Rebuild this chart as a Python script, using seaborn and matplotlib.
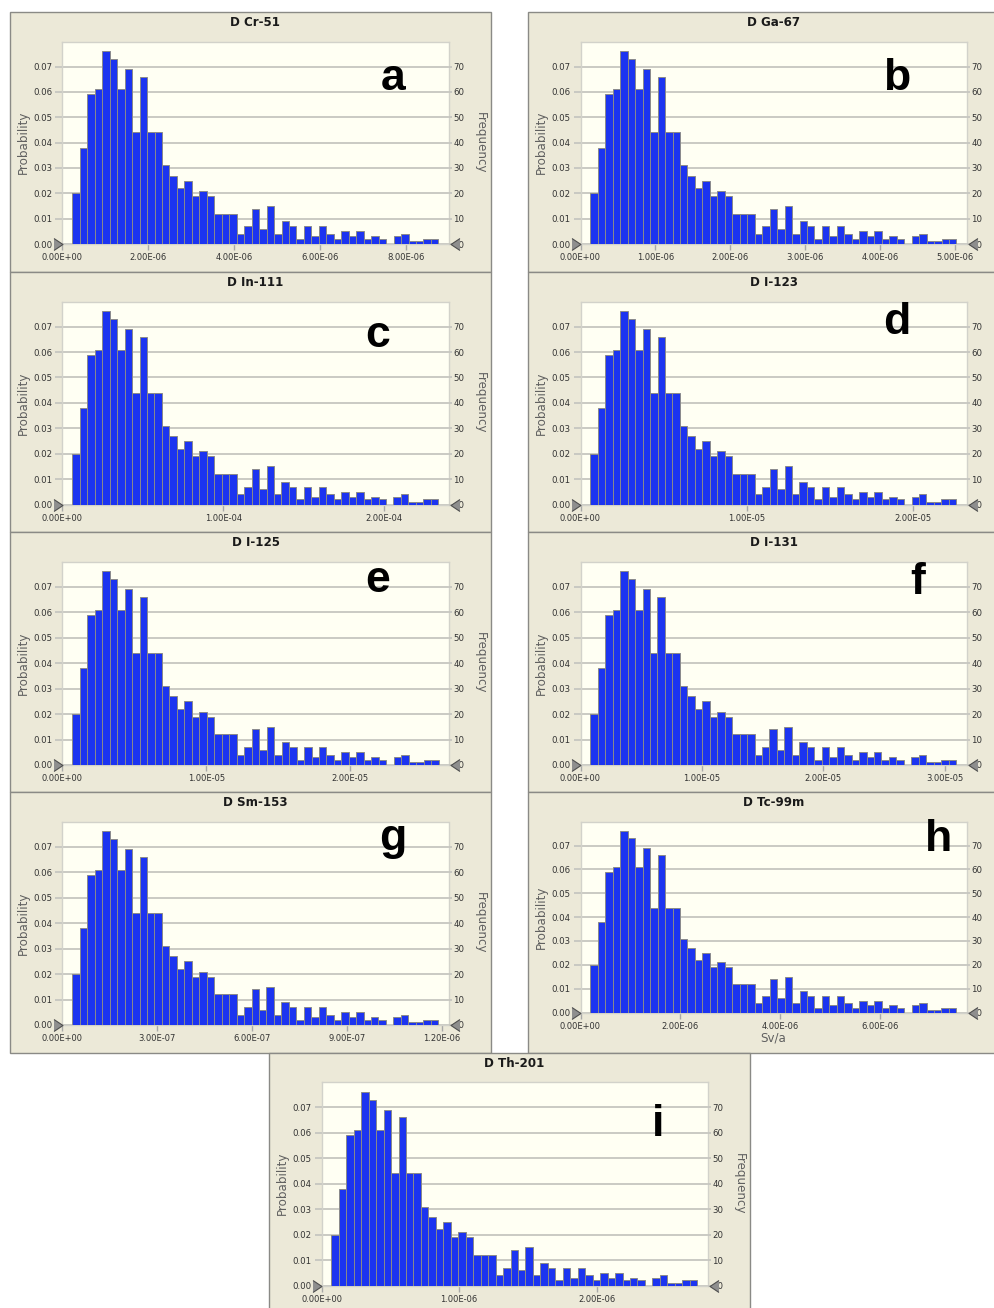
import numpy as np
import matplotlib
matplotlib.use("Agg")
import matplotlib.pyplot as plt
import seaborn as sns
from matplotlib.patches import Rectangle
from matplotlib.transforms import offset_copy

# ---------------- data ----------------
counts = [20, 38, 59, 61, 76, 73, 61, 69, 44, 66, 44, 44, 31, 27, 22, 25, 19, 21,
          19, 12, 12, 12, 4, 7, 14, 6, 15, 4, 9, 7, 2, 7, 3, 7, 4, 2, 5, 3, 5, 2,
          3, 2, 0, 3, 4, 1, 1, 2, 2]
n_trials = 1000
probability = [c / n_trials for c in counts]

panel_titles = ["D Cr-51", "D Ga-67", "D In-111", "D I-123", "D I-125",
                "D I-131", "D Sm-153", "D Tc-99m", "D Th-201"]
panel_letters = ["a", "b", "c", "d", "e", "f", "g", "h", "i"]

# histogram bin start / bin width and axis maximum per nuclide (Sv/a)
bin_start = [0.229e-6, 0.131e-6, 6.1e-6, 0.589e-6, 0.682e-6, 0.808e-6, 0.031e-6, 0.197e-6, 0.0713e-6]
bin_width = [0.1742e-6, 0.0997e-6, 4.644e-6, 0.449e-6, 0.520e-6, 0.615e-6, 0.0236e-6, 0.1498e-6, 0.0543e-6]
x_max = [9.0e-6, 5.15e-6, 2.40e-4, 2.32e-5, 2.685e-5, 3.18e-5, 1.22e-6, 7.74e-6, 2.807e-6]
x_ticks = [
    [0, 2e-6, 4e-6, 6e-6, 8e-6],
    [0, 1e-6, 2e-6, 3e-6, 4e-6, 5e-6],
    [0, 1e-4, 2e-4],
    [0, 1e-5, 2e-5],
    [0, 1e-5, 2e-5],
    [0, 1e-5, 2e-5, 3e-5],
    [0, 3e-7, 6e-7, 9e-7, 1.2e-6],
    [0, 2e-6, 4e-6, 6e-6],
    [0, 1e-6, 2e-6],
]
prob_ticks = [0.00, 0.01, 0.02, 0.03, 0.04, 0.05, 0.06, 0.07]
freq_ticks = [0, 10, 20, 30, 40, 50, 60, 70]
x_label_h = "Sv/a"

# ---------------- style ----------------
sns.set_style("white")
plt.rcParams["font.family"] = ["DejaVu Sans"]

W, H = 994, 1308
fig = plt.figure(figsize=(W / 100, H / 100), dpi=100)
fig.patch.set_facecolor("white")

FRAME_BG = "#ECE9D8"
PLOT_BG = "#FFFFF3"
BAR = "#1C34F0"
GRID = "#c6c6c0"
TXT = "#333333"

# frame (x0, y0, x1, y1) and plot area (left, top, right, bottom) in pixels
layout = [
    ((10, 12, 491, 272), (62.5, 41.5, 448.5, 244)),
    ((528, 12, 1004, 272), (580.5, 41.5, 966.5, 244)),
    ((10, 272, 491, 532), (62.5, 301.5, 448.5, 504.5)),
    ((528, 272, 1004, 532), (580.5, 301.5, 966.5, 504.5)),
    ((10, 532, 491, 792), (62.5, 561.5, 448.5, 765)),
    ((528, 532, 1004, 792), (580.5, 561.5, 966.5, 765)),
    ((10, 792, 491, 1053), (62.5, 821.5, 448.5, 1025)),
    ((528, 792, 1004, 1053), (580.5, 822, 966.5, 1012.5)),
    ((269, 1053, 750, 1320), (321.5, 1082, 707.5, 1285.5)),
]
letter_pos = [(393, 90), (897, 90), (378, 347), (897, 334), (378, 592),
              (918, 594), (393, 850), (938, 851), (658, 1136)]

y_top = 0.0799


def fx(px):
    return px / W


def fy(py):
    return 1 - py / H


tri_left = [(-3, -4), (3, 0), (-3, 4)]
tri_right = [(3, -4), (-3, 0), (3, 4)]

for i in range(9):
    (x0, y0, x1, y1), (l, t, r, b) = layout[i]
    fig.add_artist(Rectangle((fx(x0), fy(y1)), (x1 - x0) / W, (y1 - y0) / H,
                             transform=fig.transFigure, facecolor=FRAME_BG,
                             edgecolor="#8a8a86", lw=1.0, zorder=0))
    ax = fig.add_axes([fx(l), fy(b), (r - l) / W, (b - t) / H])
    ax.set_facecolor(PLOT_BG)

    edges = [bin_start[i] + k * bin_width[i] for k in range(len(counts) + 1)]
    centers = [(edges[k] + edges[k + 1]) / 2 for k in range(len(counts))]
    sns.histplot(x=centers, weights=probability, bins=edges, ax=ax,
                 color=BAR, edgecolor="#8a8a8a", linewidth=0.7, alpha=1.0,
                 zorder=3)
    ax.set_xlim(0, x_max[i])
    ax.set_ylim(0, y_top)
    ax.set_xlabel("")
    ax.set_ylabel("")
    ax.set_yticks(prob_ticks)
    ax.set_yticklabels([f"{v:.2f}" for v in prob_ticks])
    ax.set_xticks(x_ticks[i])
    ax.set_xticklabels([f"{v:.2E}" for v in x_ticks[i]])
    ax.grid(axis="y", color=GRID, lw=1.3, zorder=1)
    ax.grid(axis="x", visible=False)
    ax.set_axisbelow(True)
    ax.tick_params(axis="y", length=5, width=1.3, color=GRID, pad=2,
                   labelsize=6.2, labelcolor=TXT, left=True)
    ax.tick_params(axis="x", length=4, width=1, color="#a8a8a8", pad=2.5,
                   labelsize=6.0, labelcolor=TXT, bottom=True, direction="out")
    for sp in ax.spines.values():
        sp.set_color("#d2d2ca")
        sp.set_linewidth(1.0)

    ax2 = ax.twinx()
    ax2.set_ylim(0, y_top * n_trials)
    ax2.set_yticks(freq_ticks)
    ax2.set_yticklabels(["  0"] + [str(v) for v in freq_ticks[1:]])
    ax2.tick_params(axis="y", length=2, width=1.3, color=GRID, pad=1.5,
                    labelsize=6.2, labelcolor=TXT)
    ax2.grid(False)
    for sp in ax2.spines.values():
        sp.set_visible(False)

    ax2.plot([0], [0], marker=tri_left, ms=8.6, mfc="#8e8e8e", mec="#4e4e4e",
             mew=0.8, ls="none", clip_on=False, zorder=10,
             transform=offset_copy(ax2.transAxes, fig=fig, x=-4.5, y=0, units="dots"))
    ax2.plot([1], [0], marker=tri_right, ms=8.6, mfc="#8e8e8e", mec="#4e4e4e",
             mew=0.8, ls="none", clip_on=False, zorder=10,
             transform=offset_copy(ax2.transAxes, fig=fig, x=6.5, y=0, units="dots"))

    cy = (t + b) / 2
    fig.text(fx(x0 + 13), fy(cy), "Probability", rotation=90, ha="center",
             va="center", fontsize=8.6, color="#606060")
    fig.text(fx(r + 32), fy(cy), "Frequency", rotation=270, ha="center",
             va="center", fontsize=8.6, color="#606060")
    fig.text(fx((l + r) / 2), fy(y0 + 10.5), panel_titles[i], ha="center",
             va="center", fontsize=8.6, color="#1a1a1a", fontweight="bold")
    lx, ly = letter_pos[i]
    fig.text(fx(lx), fy(ly), panel_letters[i], ha="center", va="baseline",
             fontsize=32, fontweight="bold", color="black",
             family=["Liberation Sans", "DejaVu Sans"])
    if i == 7:
        fig.text(fx((l + r) / 2), fy(1038), x_label_h, ha="center", va="center",
                 fontsize=8.6, color="#606060")

fig.savefig("out.png", dpi=100, facecolor="white")
